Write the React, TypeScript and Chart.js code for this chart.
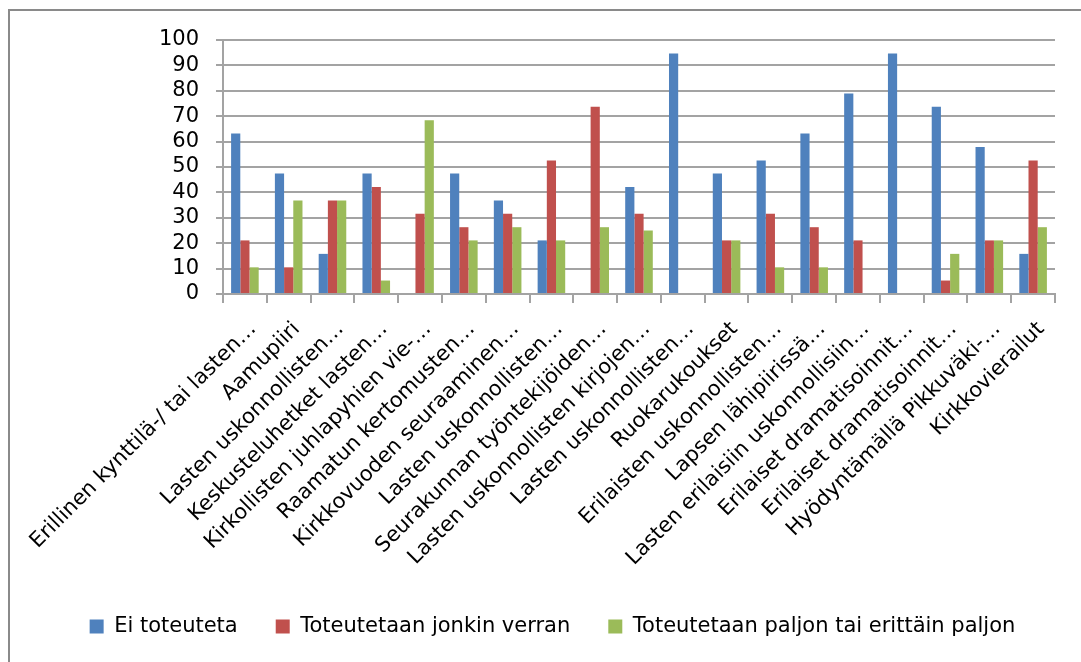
import React, { useEffect, useRef } from "react";
import { Chart, registerables } from "chart.js";

Chart.register(...registerables);

const categories: string[] = [
  "Erillinen kynttilä-/ tai lasten…",
  "Aamupiiri",
  "Lasten uskonnollisten…",
  "Keskusteluhetket lasten…",
  "Kirkollisten juhlapyhien vie-…",
  "Raamatun kertomusten…",
  "Kirkkovuoden seuraaminen…",
  "Lasten uskonnollisten…",
  "Seurakunnan työntekijöiden…",
  "Lasten uskonnollisten kirjojen…",
  "Lasten uskonnollisten…",
  "Ruokarukoukset",
  "Erilaisten uskonnollisten…",
  "Lapsen lähipiirissä…",
  "Lasten erilaisiin uskonnollisiin…",
  "Erilaiset dramatisoinnit…",
  "Erilaiset dramatisoinnit…",
  "Hyödyntämällä Pikkuväki-…",
  "Kirkkovierailut",
];

const seriesNames: string[] = [
  "Ei toteuteta",
  "Toteutetaan jonkin verran",
  "Toteutetaan paljon tai erittäin paljon",
];

const eiToteuteta: number[] = [63.2, 47.4, 15.8, 47.4, 0, 47.4, 36.8, 21.1, 0, 42.1, 94.7, 47.4, 52.6, 63.2, 78.9, 94.7, 73.7, 57.9, 15.8];
const jonkinVerran: number[] = [21.1, 10.5, 36.8, 42.1, 31.6, 26.3, 31.6, 52.6, 73.7, 31.6, 0, 21.1, 31.6, 26.3, 21.1, 0, 5.3, 21.1, 52.6];
const paljon: number[] = [10.5, 36.8, 36.8, 5.3, 68.4, 21.1, 26.3, 21.1, 26.3, 25.0, 0, 21.1, 10.5, 10.5, 0, 0, 15.8, 21.1, 26.3];

const yMin = 0;
const yMax = 100;
const yStep = 10;

const colors = ["#4F81BD", "#C0504D", "#9BBB59"];

export default function App() {
  const ref = useRef<HTMLCanvasElement | null>(null);

  useEffect(() => {
    if (!ref.current) return;
    const font = "'DejaVu Sans', sans-serif";
    const gridColor = "#a3a3a3";
    const chart = new Chart(ref.current, {
      type: "bar",
      data: {
        labels: categories,
        datasets: [eiToteuteta, jonkinVerran, paljon].map((d, i) => ({
          label: seriesNames[i],
          data: d,
          backgroundColor: colors[i],
          borderWidth: 0,
          categoryPercentage: 0.63,
          barPercentage: 1,
        })),
      },
      options: {
        animation: false,
        responsive: false,
        layout: { padding: { left: 24, right: 0, top: 40, bottom: 15 } },
        plugins: {
          tooltip: { enabled: false },
          legend: {
            position: "bottom",
            labels: {
              font: { family: font, size: 21 },
              color: "#000",
              boxWidth: 14,
              boxHeight: 14,
              padding: 38,
            },
          },
        },
        scales: {
          x: {
            grid: {
              offset: true,
              drawOnChartArea: false,
              drawTicks: true,
              tickLength: 9,
              color: gridColor,
              lineWidth: 2,
            },
            border: { display: true, color: gridColor, width: 2 },
            ticks: {
              autoSkip: false,
              maxRotation: 45,
              minRotation: 45,
              labelOffset: 8,
              padding: 14,
              color: "#000",
              font: { family: font, size: 21 },
            },
            afterFit: (s: any) => {
              s.height = 284;
            },
          },
          y: {
            min: yMin,
            max: yMax,
            grid: {
              color: gridColor,
              lineWidth: 2,
              drawTicks: true,
              tickLength: 7,
            },
            border: { display: true, color: gridColor, width: 2 },
            ticks: {
              stepSize: yStep,
              autoSkip: false,
              padding: 17,
              color: "#000",
              font: { family: font, size: 21 },
            },
            afterFit: (s: any) => {
              s.width = 199;
            },
          },
          y2: {
            position: "right",
            display: true,
            grid: { drawOnChartArea: false, drawTicks: false },
            border: { display: false },
            ticks: { display: false },
            afterFit: (s: any) => {
              s.width = 26;
            },
          },
        },
      },
    });
    return () => chart.destroy();
  }, []);

  return (
    <div style={{ position: "absolute", left: 0, top: 0, width: 1081, height: 662, background: "#fff" }}>
      <div
        style={{
          position: "absolute",
          left: 8,
          top: 9,
          width: 1073,
          height: 653,
          borderTop: "2px solid #8a8a8a",
          borderLeft: "2px solid #8a8a8a",
          boxSizing: "border-box",
        }}
      />
      <canvas ref={ref} width={1081} height={662} style={{ position: "absolute", left: 0, top: 0 }} />
    </div>
  );
}
